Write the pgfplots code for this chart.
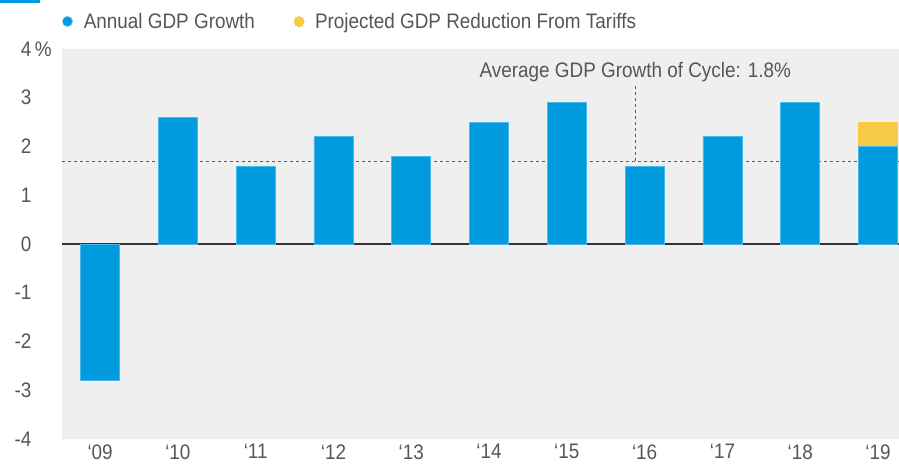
\documentclass[border=0pt]{standalone}
\usepackage{fontspec}
\setmainfont[FakeStretch=0.9]{Liberation Sans}
\usepackage{pgfplots}
\pgfplotsset{compat=1.18}
\definecolor{gdpblue}{HTML}{009BDE}
\definecolor{gdpedge}{HTML}{4DB8EA}
\definecolor{tariff}{HTML}{F5CB45}
\definecolor{bggray}{HTML}{EFEFEF}
\definecolor{txt}{HTML}{53565A}
\newcommand{\chartfont}{\fontsize{21pt}{25pt}\selectfont}
\begin{document}
\begin{tikzpicture}
\path[use as bounding box] (0,0) rectangle (899pt,464pt);
\fill[gdpblue] (0,461pt) rectangle (40pt,464pt);
\begin{axis}[
  at={(62pt,25pt)}, anchor=south west,
  scale only axis, width=837pt, height=390pt,
  ybar stacked, bar width=39pt,
  xmin=-0.49, xmax=10.27, ymin=-4, ymax=4,
  axis background/.style={fill=bggray},
  axis line style={draw=none},
  tick style={draw=none},
  xtick={0,...,10},
  xticklabels={‘09,‘10,‘11,‘12,‘13,‘14,‘15,‘16,‘17,‘18,‘19},
  ytick={-4,-3,-2,-1,0,1,2,3,4},
  yticklabels={-4,-3,-2,-1,0,1,2,3,4\rlap{\,\%}},
  /pgf/number format/assume math mode=true,
  ticklabel style={font=\chartfont, text=txt},
  yticklabel style={anchor=east, xshift=-27pt},
  xticklabel style={yshift=-2pt},
  extra y ticks={1.7}, extra y tick labels={},
  extra y tick style={grid=major, major grid style={draw=black!65, dash pattern=on 3pt off 3pt, line width=0.7pt}},
  clip=true,
  legend columns=2,
  legend style={at={(0,1)}, anchor=south west, xshift=0pt, yshift=17pt,
    draw=none, fill=none, inner sep=0pt,
    font=\chartfont, text=txt,
    /tikz/every odd column/.append style={column sep=9pt},
    /tikz/every even column/.append style={column sep=37pt}},
  legend image code/.code={\fill[#1] (5pt,0) circle (5pt);},
]
\addplot[fill=gdpblue, draw=gdpedge, line width=0.6pt] coordinates {
 (0,-2.8) (1,2.6) (2,1.6) (3,2.2) (4,1.8) (5,2.5) (6,2.9) (7,1.6) (8,2.2) (9,2.9) (10,2.0)};
\addlegendentry{Annual GDP Growth}
\addplot[fill=tariff, draw=tariff, line width=0pt] coordinates {
 (0,0) (1,0) (2,0) (3,0) (4,0) (5,0) (6,0) (7,0) (8,0) (9,0) (10,0.5)};
\addlegendentry{Projected GDP Reduction From Tariffs}
\draw[black!80, line width=1.2pt] (axis cs:-0.49,0) -- (axis cs:10.27,0);
\draw[black!65, dash pattern=on 3pt off 3pt, line width=0.7pt] (axis cs:6.88,1.7) -- (axis cs:6.88,3.25);
\node[text=txt, font=\chartfont] at (axis cs:6.88,3.52) {Average GDP Growth of Cycle: 1.8\%};
\end{axis}
\end{tikzpicture}
\end{document}
